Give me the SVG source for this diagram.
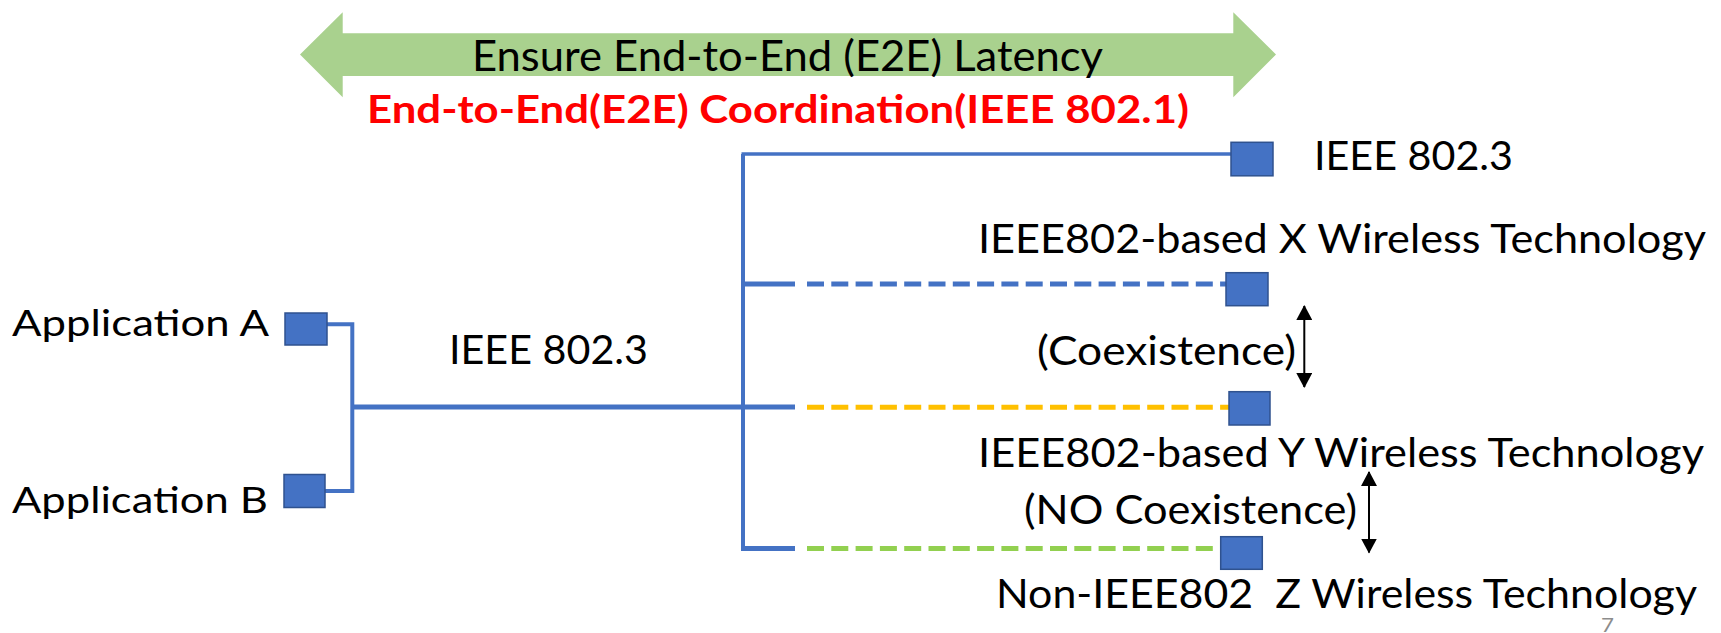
<svg xmlns="http://www.w3.org/2000/svg" width="1721" height="633" viewBox="0 0 1721 633">
  <style>
    text { font-family: Lato, "Liberation Sans", sans-serif; fill: #000; }
    .lbl { font-size: 41px; }
    .app { font-size: 37px; }
    .head { font-size: 42px; }
    .red { font-size: 37.5px; font-weight: 700; fill: #FF0000; }
    .pg { font-size: 20px; fill: #8C8C8C; }
    .node { fill: #4472C4; stroke: #2F528F; stroke-width: 1.5; }
    .wire { fill: none; stroke: #4472C4; stroke-width: 4; }
    .thin { stroke-width: 3.5; }
    .stub { stroke-width: 5; }
    .dash { fill: none; stroke-width: 5; stroke-dasharray: 17 7.3; }
    .span { stroke: #000; stroke-width: 2; marker-start: url(#tip); marker-end: url(#tip); }
  </style>
  <defs>
    <marker id="tip" viewBox="0 0 15 16" refX="14" refY="8" markerWidth="15" markerHeight="16" markerUnits="userSpaceOnUse" orient="auto-start-reverse">
      <path d="M0,0 L15,8 L0,16 Z" fill="#000"/>
    </marker>
  </defs>
  <rect width="1721" height="633" fill="#FFFFFF"/>

  <!-- Banner: double-headed block arrow with titles -->
  <g id="banner">
    <path d="M300,54.5 L342.7,12.3 L342.7,33.3 L1233.3,33.3 L1233.3,12.3 L1276,54.5 L1233.3,97.3 L1233.3,76 L342.7,76 L342.7,97.3 Z" fill="#A9D18E"/>
    <text class="head" x="472" y="71" textLength="631" lengthAdjust="spacingAndGlyphs">Ensure End-to-End (E2E) Latency</text>
    <text class="red" x="367" y="123" textLength="822" lengthAdjust="spacingAndGlyphs">End-to-End(E2E) Coordination(IEEE 802.1)</text>
  </g>

  <!-- Connectors -->
  <g id="connectors">
    <path class="wire" d="M327,324.3 H352.3 V491 H325"/>
    <path class="wire stub" d="M352,407 H795"/>
    <path class="wire" d="M743,549.5 V154"/>
    <path class="wire thin" d="M741.5,154 H1231"/>
    <path class="wire stub" d="M743,284 H795"/>
    <path class="wire stub" d="M741,548.5 H795"/>
    <path class="dash" stroke="#4472C4" d="M807,284 H1226"/>
    <path class="dash" stroke="#FFC000" d="M807,407.3 H1229"/>
    <path class="dash" stroke="#92D050" d="M807,548.5 H1221"/>
    <line class="span" x1="1304.3" y1="306" x2="1304.3" y2="387"/>
    <line class="span" x1="1369" y1="472" x2="1369" y2="552.5"/>
  </g>

  <!-- End stations -->
  <g id="app-a">
    <rect class="node" x="285" y="313" width="42" height="32"/>
    <text class="app" x="12" y="335.5" textLength="257" lengthAdjust="spacingAndGlyphs">Application A</text>
  </g>
  <g id="app-b">
    <rect class="node" x="284" y="474.5" width="41" height="33"/>
    <text class="app" x="12" y="512.5" textLength="256" lengthAdjust="spacingAndGlyphs">Application B</text>
  </g>

  <!-- Wired segment label -->
  <g id="trunk-label">
    <text class="lbl" x="449" y="363.5" textLength="199" lengthAdjust="spacingAndGlyphs">IEEE 802.3</text>
  </g>

  <!-- Branch endpoints -->
  <g id="wired-8023">
    <rect class="node" x="1231" y="142.3" width="42" height="33.5"/>
    <text class="lbl" x="1314" y="170" textLength="199" lengthAdjust="spacingAndGlyphs">IEEE 802.3</text>
  </g>
  <g id="wireless-x">
    <rect class="node" x="1226" y="272.7" width="42" height="33"/>
    <text class="lbl" x="978" y="252.7" textLength="728" lengthAdjust="spacingAndGlyphs">IEEE802-based X Wireless Technology</text>
  </g>
  <g id="coexistence">
    <text class="lbl" x="1037" y="365" textLength="259" lengthAdjust="spacingAndGlyphs">(Coexistence)</text>
  </g>
  <g id="wireless-y">
    <rect class="node" x="1229" y="391.7" width="41" height="33.3"/>
    <text class="lbl" x="978" y="467" textLength="726" lengthAdjust="spacingAndGlyphs">IEEE802-based Y Wireless Technology</text>
  </g>
  <g id="no-coexistence">
    <text class="lbl" x="1024" y="524.3" textLength="333" lengthAdjust="spacingAndGlyphs">(NO Coexistence)</text>
  </g>
  <g id="wireless-z">
    <rect class="node" x="1220.7" y="536.7" width="41.6" height="32.6"/>
    <text class="lbl" x="996" y="608" textLength="701" lengthAdjust="spacingAndGlyphs" xml:space="preserve">Non-IEEE802  Z Wireless Technology</text>
  </g>

  <!-- Page number -->
  <text class="pg" x="1601" y="632" textLength="13" lengthAdjust="spacingAndGlyphs">7</text>
</svg>
